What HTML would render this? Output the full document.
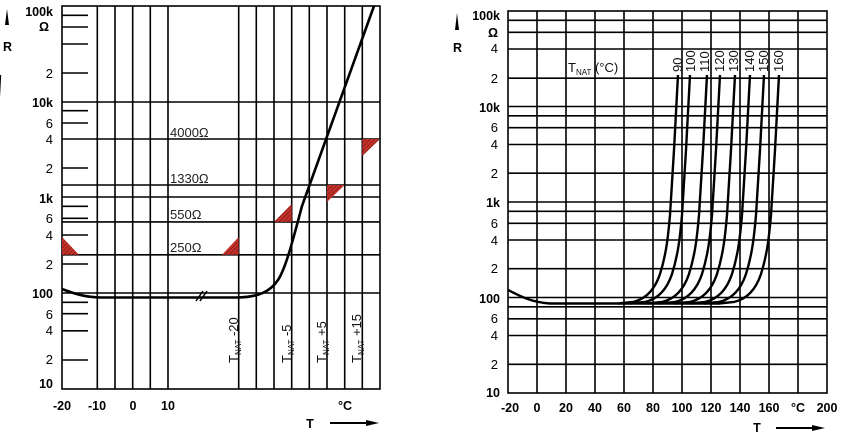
<!DOCTYPE html>
<html><head><meta charset="utf-8"><style>
html,body{margin:0;padding:0;background:#fff;}
svg{display:block;font-family:"Liberation Sans",sans-serif;}
.b{font-weight:bold;font-size:12.5px;}
.n{font-size:13px;}
</style></head><body>
<svg width="844" height="436" viewBox="0 0 844 436" xmlns="http://www.w3.org/2000/svg">
<defs>
<pattern id="h" patternUnits="userSpaceOnUse" width="3" height="3" patternTransform="rotate(-45)">
<rect width="3" height="3" fill="#c8302a"/><line x1="0" y1="0" x2="3" y2="0" stroke="#3a0f0f" stroke-width="0.8"/>
</pattern>
</defs>
<!-- LEFT CHART -->
<g stroke="#000" stroke-width="1.6" fill="none">
<rect x="62" y="6" width="318" height="383"/>
<path d="M97.3 6V389M115 6V389M132.7 6V389M150.3 6V389M168 6V389M238.7 6V389M256.3 6V389M274 6V389M291.7 6V389M309.3 6V389M327 6V389M344.7 6V389M362.3 6V389"/>
<path d="M62 293H380M62 254.8H380M62 221.9H380M62 197H380M62 185H380M62 139H380M62 102H380"/>
<path d="M62 15.3H88M62 27H88M62 44H88M62 73H88M62 110.7H88M62 123H88M62 168H88M62 206.3H88M62 218.3H88M62 235H88M62 264H88M62 302.3H88M62 313.7H88M62 330.8H88M62 360H88"/>
</g>
<g fill="url(#h)" stroke="none">
<polygon points="62,237 62,254.8 79,254.8"/>
<polygon points="222,254.8 238.7,254.8 238.7,237"/>
<polygon points="274,221.9 291.7,221.9 291.7,204"/>
<polygon points="327,185 344.7,185 327,202"/>
<polygon points="362.3,139 380,139 362.3,156"/>
</g>
<path d="M62 289 C75 294 85 297 100 297.5 L238 297.5 C258 297 270 292 278 280 C286 268 294 236 302 206 L374 6" stroke="#000" stroke-width="2.6" fill="none"/>
<path d="M196 301 L203 291 M200 301 L207 291" stroke="#000" stroke-width="1.5"/>
<g class="n" fill="#222">
<text x="170" y="137">4000Ω</text>
<text x="170" y="183">1330Ω</text>
<text x="170" y="219">550Ω</text>
<text x="170" y="252">250Ω</text>
</g>
<g class="b" text-anchor="end">
<text x="53" y="16">100k</text><text x="49" y="31">Ω</text>
<text x="53" y="107">10k</text><text x="53" y="203">1k</text><text x="53" y="298">100</text><text x="53" y="388">10</text>
</g>
<g class="n" text-anchor="end">
<text x="53" y="78">2</text><text x="53" y="128">6</text><text x="53" y="144">4</text><text x="53" y="173">2</text>
<text x="53" y="223">6</text><text x="53" y="240">4</text><text x="53" y="269">2</text>
<text x="53" y="319">6</text><text x="53" y="335">4</text><text x="53" y="364">2</text>
</g>
<text class="b" x="3" y="51">R</text>
<polygon points="5,25 9,25 7,9" fill="#000"/>
<g class="b" text-anchor="middle">
<text x="62" y="410">-20</text><text x="97" y="410">-10</text><text x="133" y="410">0</text><text x="168" y="410">10</text><text x="345" y="410">°C</text>
<text x="310" y="428">T</text>
</g>
<path d="M330 423H368" stroke="#000" stroke-width="2"/><polygon points="366,420 379,423 366,426" fill="#000"/>
<g class="n" fill="#111">
<text transform="translate(238,363) rotate(-90)">T<tspan font-size="8" dy="3">NAT</tspan><tspan dy="-3"> -20</tspan></text>
<text transform="translate(291,363) rotate(-90)">T<tspan font-size="8" dy="3">NAT</tspan><tspan dy="-3"> -5</tspan></text>
<text transform="translate(326,363) rotate(-90)">T<tspan font-size="8" dy="3">NAT</tspan><tspan dy="-3"> +5</tspan></text>
<text transform="translate(361,363) rotate(-90)">T<tspan font-size="8" dy="3">NAT</tspan><tspan dy="-3"> +15</tspan></text>
</g>

<!-- RIGHT CHART -->
<g stroke="#000" stroke-width="1.6" fill="none">
<rect x="508" y="11" width="319" height="382"/>
<path d="M537 11V393M566 11V393M595 11V393M624 11V393M653 11V393M682 11V393M711 11V393M740 11V393M769 11V393M798 11V393"/>
<path d="M508 20.3H827M508 32.3H827M508 49H827M508 78.2H827M508 106.5H827M508 115.8H827M508 127.7H827M508 144.5H827M508 173.2H827M508 202H827M508 211.3H827M508 223.3H827M508 240H827M508 268.7H827M508 297.5H827M508 306.8H827M508 318.8H827M508 335.5H827M508 364.3H827"/>
</g>
<g stroke="#000" stroke-width="2.4" fill="none">
<path d="M508 290 C520 296 530 302 550 303.5 L720 303.5"/>
<path id="c" d="M0 75 L-4 150 L-8 215 C-10 238 -12 255 -18 274 C-23 289 -32 299 -45 302 L-60 303.5"/>
<use href="#c" x="678"/><use href="#c" x="690"/><use href="#c" x="707"/><use href="#c" x="720"/><use href="#c" x="735"/><use href="#c" x="750"/><use href="#c" x="764"/><use href="#c" x="779"/>
</g>
<g class="n" fill="#111">
<text x="568" y="72">T<tspan font-size="8" dy="3">NAT</tspan><tspan dy="-3"> (°C)</tspan></text>
<text transform="translate(682,72) rotate(-90)">90</text>
<text transform="translate(695,72) rotate(-90)">100</text>
<text transform="translate(709,72) rotate(-90)">110</text>
<text transform="translate(724,72) rotate(-90)">120</text>
<text transform="translate(738,72) rotate(-90)">130</text>
<text transform="translate(754,72) rotate(-90)">140</text>
<text transform="translate(768,72) rotate(-90)">150</text>
<text transform="translate(783,72) rotate(-90)">160</text>
</g>
<g class="b" text-anchor="end">
<text x="500" y="20">100k</text><text x="498" y="37">Ω</text>
<text x="500" y="112">10k</text><text x="500" y="207">1k</text><text x="500" y="303">100</text><text x="500" y="397">10</text>
</g>
<g class="n" text-anchor="end">
<text x="498" y="53">4</text><text x="498" y="83">2</text>
<text x="498" y="132">6</text><text x="498" y="149">4</text><text x="498" y="178">2</text>
<text x="498" y="228">6</text><text x="498" y="245">4</text><text x="498" y="273">2</text>
<text x="498" y="323">6</text><text x="498" y="340">4</text><text x="498" y="369">2</text>
</g>
<text class="b" x="453" y="52">R</text>
<polygon points="455,30 459,30 457,13" fill="#000"/>
<g class="b" text-anchor="middle">
<text x="510" y="412">-20</text><text x="537" y="412">0</text><text x="566" y="412">20</text><text x="595" y="412">40</text><text x="624" y="412">60</text><text x="653" y="412">80</text><text x="682" y="412">100</text><text x="711" y="412">120</text><text x="740" y="412">140</text><text x="769" y="412">160</text><text x="798" y="412">°C</text><text x="827" y="412">200</text>
<text x="757" y="432">T</text>
</g>
<path d="M776 428H814" stroke="#000" stroke-width="2"/><polygon points="812,425 825,428 812,431" fill="#000"/>
</svg>
</body></html>
